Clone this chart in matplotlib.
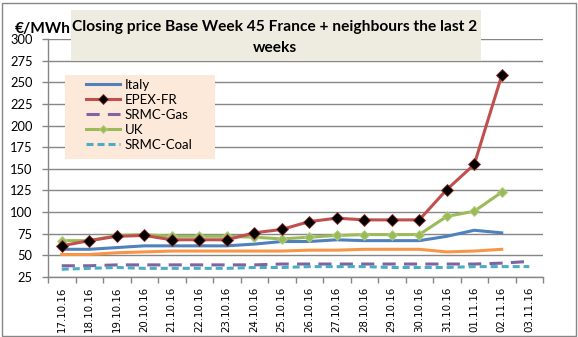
import matplotlib
matplotlib.use("Agg")
import matplotlib.pyplot as plt
from matplotlib.patches import Rectangle

dates = ['17.10.16', '18.10.16', '19.10.16', '20.10.16', '21.10.16', '22.10.16',
         '23.10.16', '24.10.16', '25.10.16', '26.10.16', '27.10.16', '28.10.16',
         '29.10.16', '30.10.16', '31.10.16', '01.11.16', '02.11.16', '03.11.16']
italy = [57, 57, 59, 61, 61, 61, 61, 63, 66, 66, 68, 67, 67, 67, 72, 79, 76]
epex_fr = [61, 67, 72, 73, 68, 68, 68, 76, 80, 89, 93, 91, 91, 91, 126, 155, 258]
srmc_gas = [38, 38, 39, 39, 39, 39, 39, 39, 40, 40, 40, 40, 40, 40, 40, 40, 41, 43]
uk = [67, 67, 73, 74, 72, 72, 72, 71, 69, 71, 73, 74, 74, 74, 95, 101, 123]
srmc_coal = [34, 35, 36, 35, 35, 35, 35, 36, 36, 37, 37, 37, 36, 36, 36, 37, 37, 37]
other = [51, 51, 53, 54, 55, 55, 55, 55, 55, 56, 56, 57, 57, 57, 54, 55, 57]
yticks = [25, 50, 75, 100, 125, 150, 175, 200, 225, 250, 275, 300]

W, H = 578, 337
fig = plt.figure(figsize=(W / 100, H / 100), dpi=100)
ax = fig.add_axes([48 / W, 1 - 277 / H, (543 - 48) / W, (277 - 39) / H])

x = list(range(len(dates)))
lw = 2.2
ax.plot(x[:len(other)], other, color='#F79646', lw=lw, zorder=3)
ax.plot(x[:len(italy)], italy, color='#4F81BD', lw=lw, zorder=3, label='Italy')
ax.plot(x[:len(epex_fr)], epex_fr, color='#C0504D', lw=lw, zorder=5, label='EPEX-FR',
        marker='D', markersize=6, markerfacecolor='black', markeredgecolor='#8B2E2C',
        markeredgewidth=0.6)
ax.plot(x[:len(srmc_gas)], srmc_gas, color='#8064A2', lw=lw, zorder=3, label='SRMC-Gas',
        dashes=(4.3, 2.7))
ax.plot(x[:len(uk)], uk, color='#9BBB59', lw=lw, zorder=4, label='UK',
        marker='D', markersize=5, markerfacecolor='#9BBB59', markeredgecolor='#B5D08A',
        markeredgewidth=0.6)
ax.plot(x[:len(srmc_coal)], srmc_coal, color='#4BACC6', lw=lw, zorder=3, label='SRMC-Coal',
        dashes=(2.3, 1.3))

ax.set_xlim(-0.5, len(dates) - 0.5)
ax.set_ylim(25, 300)
ax.set_yticks(yticks)
ax.set_yticklabels([str(v) for v in yticks], fontfamily='Lato', fontsize=9.3)
ax.set_xticks(x)
ax.set_xticklabels(dates, rotation=90, fontsize=7.4, fontfamily='DejaVu Sans')
ax.set_xticks([i - 0.5 for i in range(len(dates) + 1)], minor=True)
ax.tick_params(axis='x', which='major', length=0, pad=7)
ax.tick_params(axis='x', which='minor', length=4, color='#868686', width=1)
ax.tick_params(axis='y', length=4, color='#868686', width=1, pad=7)
ax.grid(axis='y', color='#868686', lw=1)
ax.set_axisbelow(True)
for s in ['top', 'right']:
    ax.spines[s].set_visible(False)
for s in ['left', 'bottom']:
    ax.spines[s].set_color('#868686')
    ax.spines[s].set_linewidth(1)

# legend background
fig.patches.append(Rectangle((65 / W, 1 - 159 / H), (215 - 65) / W, (159 - 75) / H,
                             transform=fig.transFigure, facecolor='#FDE9D9',
                             edgecolor='none', zorder=8))
leg = fig.legend(loc='upper left', bbox_to_anchor=(86 / W, 1 - 79 / H),
                 frameon=False, prop={'family': 'Lato', 'size': 9.5},
                 handlelength=2.6, handletextpad=0.35, labelspacing=0.22,
                 borderpad=0, borderaxespad=0, markerscale=0.8)
leg.set_zorder(9)

# title box
fig.patches.append(Rectangle((71 / W, 1 - 61 / H), (481 - 71) / W, (61 - 10) / H,
                             transform=fig.transFigure, facecolor='#EEECE1',
                             edgecolor='none', zorder=5))
fig.text(275 / W, 1 - 27 / H, 'Closing price Base Week 45 France + neighbours the last 2',
         ha='center', va='center', fontsize=11.2, fontfamily='Lato', fontweight='bold',
         zorder=6)
fig.text(275 / W, 1 - 48 / H, 'weeks', ha='center', va='center', fontsize=11.2,
         fontfamily='Lato', fontweight='bold', zorder=6)
fig.text(15 / W, 1 - 29 / H, '€/MWh', ha='left', va='center', fontsize=11.2,
         fontfamily='Lato', fontweight='bold', zorder=4)

# outer border
fig.patches.append(Rectangle((1.5 / W, 1.5 / H), (W - 4) / W, (H - 4) / H,
                             transform=fig.transFigure, facecolor='none',
                             edgecolor='#868686', lw=1, zorder=10))

fig.savefig('out.png', dpi=100)
